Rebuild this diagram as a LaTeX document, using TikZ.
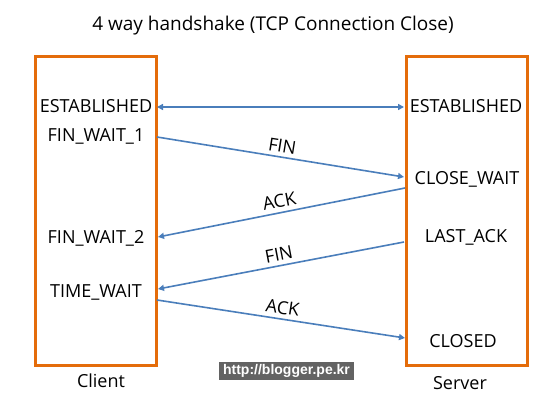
\documentclass[tikz,border=0pt]{standalone}
\usepackage{fontspec}
\setmainfont{Open Sans}
\newfontfamily\markfont{Liberation Sans}
\usetikzlibrary{arrows.meta}
\definecolor{boxorange}{HTML}{E46C0A}
\definecolor{arrowblue}{HTML}{4A7EBB}
\definecolor{markgray}{HTML}{636363}
\begin{document}
\begin{tikzpicture}[x=1pt,y=-1pt,
  hostbox/.style={draw=boxorange,line width=3pt},
  state/.style={font=\fontsize{18}{18}\selectfont,inner sep=1pt},
  lbl/.style={font=\fontsize{18}{18}\selectfont,inner sep=1pt},
  msg/.style={draw=arrowblue,line width=1.6pt,-{Triangle[length=6pt,width=6pt]}},
  msglbl/.style={font=\fontsize{18}{18}\selectfont,inner sep=1pt,sloped}]
\useasboundingbox (0,0) rectangle (556,406);
\fill[white] (0,0) rectangle (556,406);
\node[lbl,font=\fontsize{19}{19}\selectfont] (title) at (273,26) {4 way handshake (TCP Connection Close)};
\draw[hostbox] (35,57) rectangle (156,365);
\draw[hostbox] (406,57) rectangle (527,365);
\node[state] (cest) at (96,106) {ESTABLISHED};
\node[state] (cfw1) at (96,136) {FIN\_WAIT\_1};
\node[state] (cfw2) at (96,238) {FIN\_WAIT\_2};
\node[state] (ctw) at (96,292) {TIME\_WAIT};
\node[state] (sest) at (466,106) {ESTABLISHED};
\node[state] (scw) at (467,179) {CLOSE\_WAIT};
\node[state] (sla) at (466,237) {LAST\_ACK};
\node[state] (scl) at (463,341) {CLOSED};
\node[lbl] (client) at (101,381) {Client};
\node[lbl] (server) at (460,383) {Server};
\coordinate (a1) at (157,107);
\coordinate (b1) at (404,107);
\coordinate (a2) at (157,137);
\coordinate (b2) at (404,177);
\coordinate (b3) at (405,188);
\coordinate (a3) at (158,237);
\coordinate (b4) at (404,242);
\coordinate (a4) at (158,289);
\coordinate (a5) at (157,300);
\coordinate (b5) at (405,338);
\draw[msg,{Triangle[length=6pt,width=6pt]}-{Triangle[length=6pt,width=6pt]}] (a1) -- (b1);
\draw[msg] (a2) -- node[msglbl,above=3pt] {FIN} (b2);
\draw[msg] (b3) -- node[msglbl,above=3pt] {ACK} (a3);
\draw[msg] (b4) -- node[msglbl,above=3pt] {FIN} (a4);
\draw[msg] (a5) -- node[msglbl,above=3pt] {ACK} (b5);
\node[fill=markgray,text=white,font=\markfont\fontsize{14}{14}\selectfont\bfseries,inner sep=2pt,minimum height=16pt,minimum width=135pt] (wm) at (286.5,371) {http://blogger.pe.kr};
\end{tikzpicture}
\end{document}
